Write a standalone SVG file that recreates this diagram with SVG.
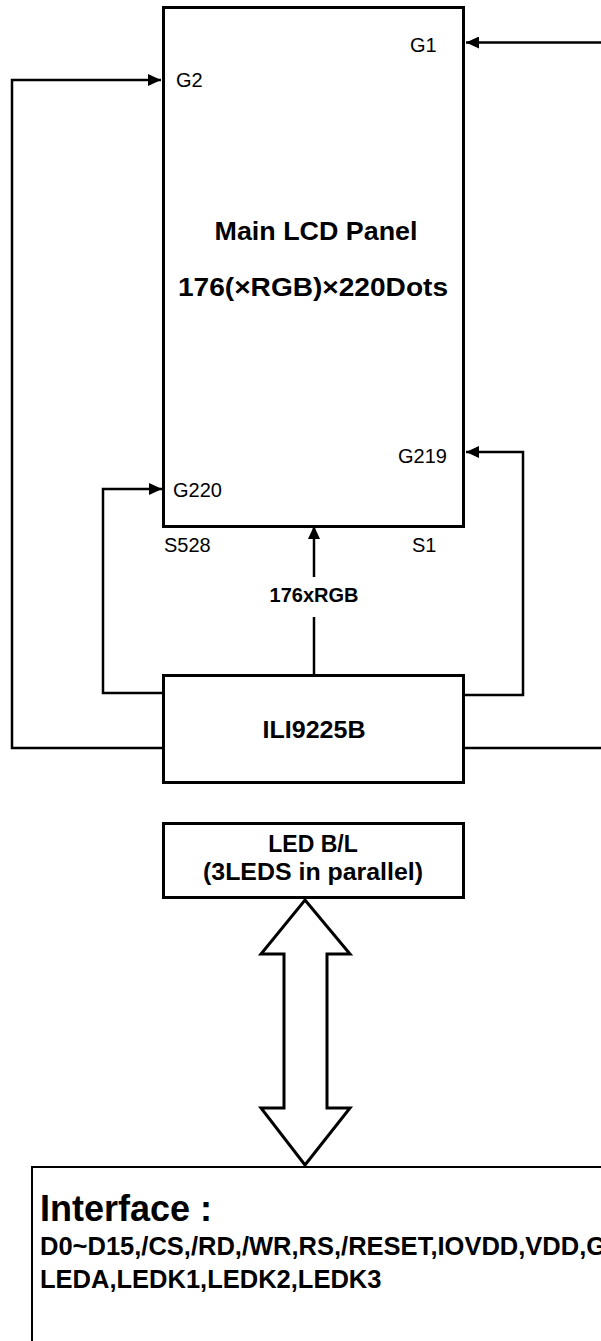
<svg xmlns="http://www.w3.org/2000/svg" width="601" height="1341" viewBox="0 0 601 1341">
<style>
.box{fill:#fff;stroke:#000;stroke-width:3}
.ln{fill:none;stroke:#000;stroke-width:2.5}
.t{font-family:"Liberation Sans",Arial,sans-serif;fill:#000}
.b{font-weight:bold}
</style>
<defs>
<marker id="ah" markerUnits="userSpaceOnUse" viewBox="0 0 13 12" refX="13" refY="6" markerWidth="13" markerHeight="12" orient="auto">
<path d="M0,0 L13,6 L0,12 z" fill="#000"/>
</marker>
</defs>
<rect width="601" height="1341" fill="#fff"/>
<g id="connectors">
<path class="ln" d="M601,42.5 H466" marker-end="url(#ah)"/>
<path class="ln" d="M163,748 H12 V80 H161" marker-end="url(#ah)"/>
<path class="ln" d="M163,693 H103 V489 H162" marker-end="url(#ah)"/>
<path class="ln" d="M464,695 H523 V452 H466" marker-end="url(#ah)"/>
<path class="ln" d="M464,748 H601"/>
<path class="ln" d="M314,675 V617"/>
<path class="ln" d="M314,577 V526" marker-end="url(#ah)"/>
<text class="t b" x="314" y="602" font-size="20" text-anchor="middle">176xRGB</text>
</g>
<g id="panel">
<rect class="box" x="163.5" y="7.5" width="300" height="519"/>
<text class="t b" x="316" y="240" font-size="26" text-anchor="middle" textLength="203" lengthAdjust="spacingAndGlyphs">Main LCD Panel</text>
<text class="t b" x="313" y="296" font-size="26" text-anchor="middle" textLength="270" lengthAdjust="spacingAndGlyphs">176(×RGB)×220Dots</text>
<text class="t" x="410" y="52" font-size="20">G1</text>
<text class="t" x="176" y="87" font-size="20">G2</text>
<text class="t" x="398" y="463" font-size="20">G219</text>
<text class="t" x="173" y="497" font-size="20">G220</text>
<text class="t" x="164" y="552" font-size="20">S528</text>
<text class="t" x="412" y="552" font-size="20">S1</text>
</g>
<g id="driver">
<rect class="box" x="163.5" y="675.5" width="300" height="107"/>
<text class="t b" x="314" y="738" font-size="24" text-anchor="middle" textLength="103" lengthAdjust="spacingAndGlyphs">ILI9225B</text>
</g>
<g id="backlight">
<rect class="box" x="163.5" y="823.5" width="300" height="74"/>
<text class="t b" x="313" y="852" font-size="23" text-anchor="middle">LED B/L</text>
<text class="t b" x="313" y="880" font-size="23" text-anchor="middle" textLength="220" lengthAdjust="spacingAndGlyphs">(3LEDS in parallel)</text>
</g>
<g id="bus-arrow">
<polygon points="305,900 350,954 327,954 327,1108 350,1108 305,1165 261,1108 284,1108 284,954 261,954" fill="#fff" stroke="#000" stroke-width="3" stroke-linejoin="miter"/>
</g>
<g id="interface">
<rect x="32" y="1167" width="600" height="200" fill="#fff" stroke="#000" stroke-width="2"/>
<text class="t b" x="40" y="1221" font-size="36">Interface :</text>
<text class="t b" x="40" y="1255" font-size="25.5">D0~D15,/CS,/RD,/WR,RS,/RESET,IOVDD,VDD,G</text>
<text class="t b" x="40" y="1288" font-size="25.5">LEDA,LEDK1,LEDK2,LEDK3</text>
</g>
</svg>
